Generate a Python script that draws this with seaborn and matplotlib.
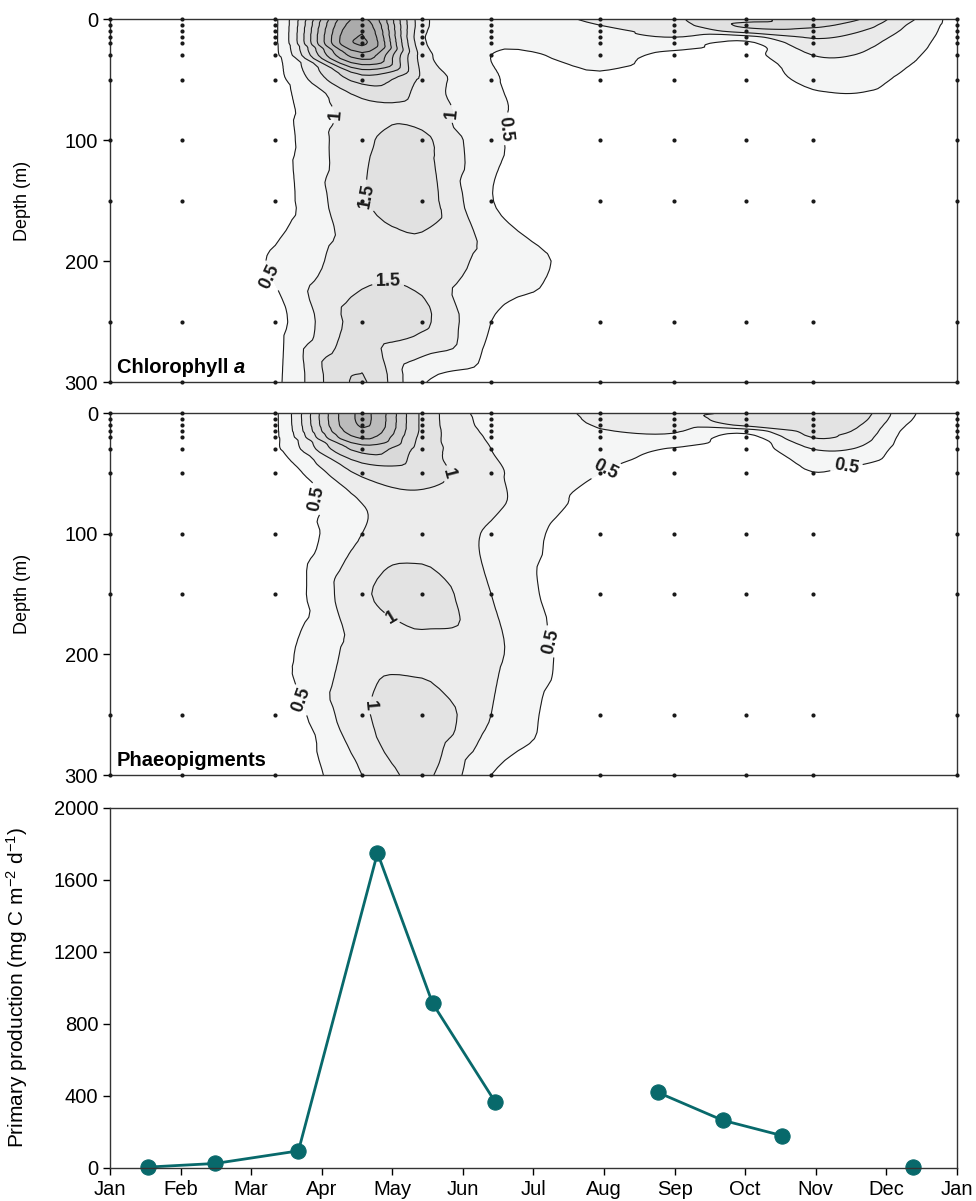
import numpy as np
import pandas as pd
import matplotlib
matplotlib.use("Agg")
import matplotlib.pyplot as plt
import matplotlib.tri as mtri
import seaborn as sns

sns.set_theme(style="ticks")
plt.rcParams['font.family'] = ['Liberation Sans', 'DejaVu Sans']
plt.rcParams['mathtext.fontset'] = 'custom'
plt.rcParams['mathtext.rm'] = 'Liberation Sans'
plt.rcParams['mathtext.it'] = 'Liberation Sans:italic'
plt.rcParams['mathtext.bf'] = 'Liberation Sans:bold'
plt.rcParams['text.color'] = 'black'
plt.rcParams['axes.labelcolor'] = 'black'
plt.rcParams['xtick.color'] = 'black'
plt.rcParams['ytick.color'] = 'black'

# time axis in months since 1 Jan (each month = 1 unit)
station_month = [0.0, 1.02, 2.34, 3.57, 4.42, 5.40, 6.94, 7.99, 9.01, 9.96, 12.0]
sample_depth = [0, 5, 10, 15, 20, 30, 50, 100, 150, 250, 300]

# gridded field (columns = times, rows = depths)
grid_month = [0.0, 1.02, 2.34, 3.57, 4.42, 5.40, 6.94, 7.99, 9.01, 9.96, 10.58, 11.28, 12.0]
grid_depth = [0, 5, 10, 15, 20, 30, 50, 75, 100, 150, 200, 250, 300]

# chlorophyll a (mg m-3), one list per column
chl_jan = [0.25, 0.25, 0.25, 0.25, 0.25, 0.25, 0.25, 0.25, 0.25, 0.25, 0.25, 0.25, 0.25]
chl_feb = [0.3, 0.3, 0.3, 0.3, 0.3, 0.3, 0.3, 0.3, 0.3, 0.3, 0.3, 0.3, 0.3]
chl_mar = [0.4, 0.4, 0.4, 0.4, 0.4, 0.38, 0.35, 0.32, 0.3, 0.3, 0.55, 0.35, 0.4]
chl_apr = [4.6, 4.8, 4.95, 5.05, 5.1, 4.3, 2.2, 1.3, 1.4, 1.45, 1.3, 1.7, 2.05]
chl_may = [1.2, 1.2, 1.15, 1.1, 1.15, 1.3, 1.4, 1.3, 1.6, 1.7, 1.3, 1.6, 0.55]
chl_jun = [0.75, 0.72, 0.7, 0.65, 0.58, 0.5, 0.55, 0.6, 0.6, 0.52, 0.85, 0.5, 0.2]
chl_jul = [1.1, 1.0, 0.9, 0.82, 0.75, 0.62, 0.45, 0.3, 0.2, 0.2, 0.3, 0.2, 0.15]
chl_aug = [1.4, 1.3, 1.15, 1.0, 0.7, 0.42, 0.35, 0.3, 0.2, 0.2, 0.2, 0.2, 0.2]
chl_sep = [1.8, 2.1, 1.7, 0.8, 0.4, 0.35, 0.3, 0.25, 0.2, 0.2, 0.2, 0.2, 0.2]
chl_oct = [2.3, 2.1, 1.85, 1.55, 1.35, 1.0, 0.6, 0.35, 0.2, 0.2, 0.2, 0.2, 0.2]
chl_nov = [2.05, 1.8, 1.55, 1.35, 1.2, 0.98, 0.65, 0.35, 0.2, 0.2, 0.2, 0.2, 0.2]
chl_dec = [1.15, 1.0, 0.9, 0.8, 0.72, 0.6, 0.42, 0.28, 0.2, 0.2, 0.2, 0.2, 0.2]
chl_jan2 = [0.25, 0.25, 0.25, 0.25, 0.25, 0.25, 0.25, 0.25, 0.25, 0.25, 0.25, 0.25, 0.25]

# phaeopigments
pha_jan = [0.25, 0.25, 0.25, 0.25, 0.25, 0.25, 0.25, 0.25, 0.25, 0.25, 0.25, 0.25, 0.25]
pha_feb = [0.3, 0.3, 0.3, 0.3, 0.3, 0.3, 0.3, 0.3, 0.3, 0.3, 0.3, 0.3, 0.3]
pha_mar = [0.45, 0.45, 0.45, 0.45, 0.45, 0.45, 0.3, 0.3, 0.25, 0.3, 0.42, 0.3, 0.25]
pha_apr = [2.3, 2.3, 2.28, 2.2, 2.05, 1.6, 1.05, 0.75, 0.75, 0.95, 0.85, 0.95, 0.75]
pha_may = [1.2, 1.2, 1.2, 1.2, 1.18, 1.15, 1.1, 0.92, 0.85, 1.15, 0.9, 1.2, 1.05]
pha_jun = [0.65, 0.67, 0.68, 0.7, 0.72, 0.75, 0.8, 0.8, 0.72, 0.75, 0.8, 0.75, 0.5]
pha_jul = [0.8, 0.78, 0.76, 0.74, 0.7, 0.62, 0.5, 0.4, 0.3, 0.25, 0.3, 0.25, 0.2]
pha_aug = [0.9, 0.85, 0.8, 0.77, 0.7, 0.48, 0.35, 0.3, 0.25, 0.2, 0.2, 0.2, 0.2]
pha_sep = [1.05, 1.15, 1.05, 0.6, 0.42, 0.35, 0.3, 0.25, 0.2, 0.2, 0.2, 0.2, 0.2]
pha_oct = [1.2, 1.18, 1.12, 1.07, 1.01, 0.75, 0.49, 0.35, 0.25, 0.2, 0.2, 0.2, 0.2]
pha_nov = [1.15, 1.1, 1.03, 0.97, 0.9, 0.73, 0.42, 0.3, 0.2, 0.2, 0.2, 0.2, 0.2]
pha_dec = [0.58, 0.55, 0.5, 0.45, 0.42, 0.38, 0.3, 0.25, 0.2, 0.2, 0.2, 0.2, 0.2]
pha_jan2 = [0.25, 0.25, 0.25, 0.25, 0.25, 0.25, 0.25, 0.25, 0.25, 0.25, 0.25, 0.25, 0.25]

chl_levels = [0, 0.5, 1.0, 1.5, 2.0, 2.5, 3.0, 3.5, 4.0, 4.5, 5.0, 5.5, 20]
chl_fills = ['#ffffff', '#f4f5f5', '#eaeaea', '#e1e1e1', '#d8d8d8', '#cfcfcf',
             '#c6c6c6', '#bdbdbd', '#b4b4b4', '#ababab', '#a2a2a2', '#999999']
pha_levels = [0, 0.5, 0.75, 1.0, 1.25, 1.5, 1.75, 2.0, 2.25, 2.5, 20]
pha_fills = ['#ffffff', '#f5f6f6', '#ececec', '#e3e3e3', '#d9d9d9', '#cfcfcf',
             '#c5c5c5', '#bbbbbb', '#b1b1b1', '#a7a7a7']

# contour label spots (level, month, depth)
chl_labels = [(1.0, 3.19, 79), (1.0, 4.89, 78), (0.5, 5.74, 92), (1.5, 3.80, 145),
              (0.5, 2.16, 216), (1.5, 3.94, 229)]
pha_labels = [(0.5, 3.02, 70), (1.0, 4.82, 51), (0.5, 7.02, 47), (0.5, 10.43, 43),
              (1.0, 3.94, 176), (0.5, 6.31, 188), (0.5, 2.70, 238), (1.0, 3.66, 242)]

# primary production
pp_month = [0.54, 1.49, 2.67, 3.79, 4.57, 5.46, 7.76, 8.68, 9.52, 11.38]
pp_value = [5, 25, 95, 1750, 915, 365, 420, 265, 180, 5]
pp_segment = [0, 0, 0, 0, 0, 0, 1, 1, 1, 2]

month_names = ['Jan', 'Feb', 'Mar', 'Apr', 'May', 'Jun', 'Jul', 'Aug', 'Sep', 'Oct', 'Nov', 'Dec', 'Jan']

fig = plt.figure(figsize=(9.76, 12.01), dpi=100)
ax1 = fig.add_axes([0.1127, 0.6819, 0.8678, 0.3022])
ax2 = fig.add_axes([0.1127, 0.3547, 0.8678, 0.3014])
ax3 = fig.add_axes([0.1127, 0.0275, 0.8678, 0.2998])


def contour_panel(ax, cols, levels, fills, labels):
    z = np.array(cols, dtype=float).T
    X, Y = np.meshgrid(grid_month, grid_depth)
    ny, nx = z.shape
    tris = []
    for i in range(ny - 1):
        for j in range(nx - 1):
            a = i * nx + j
            tris.append([a, a + 1, a + nx + 1])
            tris.append([a, a + nx + 1, a + nx])
    tri = mtri.Triangulation(X.ravel(), Y.ravel(), tris)
    interp = mtri.CubicTriInterpolator(tri, z.ravel(), kind='geom')
    tri_f, z_f = mtri.UniformTriRefiner(tri).refine_field(z.ravel(), interp, subdiv=3)
    ax.tricontourf(tri_f, z_f, levels=levels, colors=fills)
    # one line set per level so each label sits on its own level
    for lev in levels[1:-1]:
        cs = ax.tricontour(tri_f, z_f, levels=[lev], colors='k', linewidths=0.8)
        spots = [(mx, dy) for l, mx, dy in labels if l == lev]
        if spots:
            txts = ax.clabel(cs, manual=spots, inline=True, inline_spacing=4,
                             fmt=lambda v: f"{v:g}", fontsize=13)
            for t in txts:
                t.set_fontweight('bold')

    sx, sy = np.meshgrid(station_month, sample_depth)
    sns.scatterplot(x=sx.ravel(), y=sy.ravel(), ax=ax, color='k', s=9,
                    linewidth=0, zorder=5, clip_on=False, legend=False)

    ax.set_xlim(0, 12)
    ax.set_ylim(300, 0)
    ax.set_xticks([])
    ax.set_yticks([0, 100, 200, 300])
    ax.set_ylabel('Depth (m)', fontsize=13)
    ax.yaxis.set_label_coords(-0.093, 0.5)
    ax.tick_params(axis='y', direction='out', length=5, width=1, labelsize=14.5)
    for s in ax.spines.values():
        s.set_linewidth(1)
        s.set_color('#333333')


contour_panel(ax1, [chl_jan, chl_feb, chl_mar, chl_apr, chl_may, chl_jun, chl_jul,
                    chl_aug, chl_sep, chl_oct, chl_nov, chl_dec, chl_jan2],
              chl_levels, chl_fills, chl_labels)
contour_panel(ax2, [pha_jan, pha_feb, pha_mar, pha_apr, pha_may, pha_jun, pha_jul,
                    pha_aug, pha_sep, pha_oct, pha_nov, pha_dec, pha_jan2],
              pha_levels, pha_fills, pha_labels)

t = ax1.text(0.008, 0.025, "Chlorophyll ", transform=ax1.transAxes, fontsize=14.5,
             fontweight='bold', va='baseline', zorder=6)
ax2.text(0.008, 0.025, "Phaeopigments", transform=ax2.transAxes, fontsize=14.5,
         fontweight='bold', va='baseline', zorder=6)
fig.canvas.draw()
bb = t.get_window_extent()
xa = ax1.transAxes.inverted().transform((bb.x1, bb.y0))[0]
ax1.text(xa, 0.025, "a", transform=ax1.transAxes, fontsize=14.5, fontweight='bold',
         style='italic', va='baseline', zorder=6)

# primary production panel
pp = pd.DataFrame({'month': pp_month, 'value': pp_value, 'seg': pp_segment})
teal = '#08696b'
sns.lineplot(data=pp, x='month', y='value', units='seg', estimator=None, ax=ax3,
             color=teal, linewidth=2, marker='o', markersize=11,
             markeredgecolor=teal, markerfacecolor=teal, clip_on=False)
ax3.set_xlim(0, 12)
ax3.set_ylim(0, 2000)
ax3.set_xticks(range(13))
ax3.set_xticklabels(month_names)
ax3.set_yticks([0, 400, 800, 1200, 1600, 2000])
ax3.set_xlabel('')
ax3.set_ylabel(r'Primary production (mg C m$^{-2}$ d$^{-1}$)', fontsize=15)
ax3.yaxis.set_label_coords(-0.095, 0.5)
ax3.tick_params(direction='out', length=5, width=1, labelsize=14.5)
for s in ax3.spines.values():
    s.set_linewidth(1)
    s.set_color('#333333')

fig.savefig('out.png', dpi=100)
